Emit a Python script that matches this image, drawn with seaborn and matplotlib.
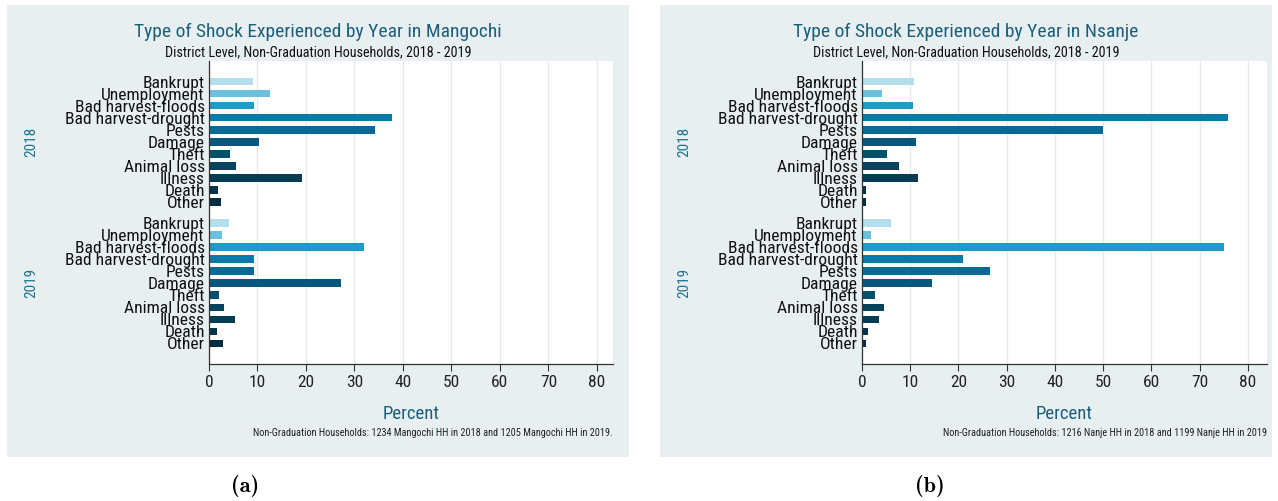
import matplotlib
matplotlib.use("Agg")
import matplotlib.pyplot as plt
import matplotlib.transforms as mtransforms
from matplotlib import font_manager
from matplotlib.patches import Rectangle
import seaborn as sns
import pandas as pd

# Data (percent of households)
SHOCKS = ["Bankrupt", "Unemployment", "Bad harvest-floods", "Bad harvest-drought",
          "Pests", "Damage", "Theft", "Animal loss", "Illness", "Death", "Other"]
YEARS = ["2018", "2019"]
MANGOCHI_2018 = [9.0, 12.6, 9.3, 37.7, 34.3, 10.4, 4.3, 5.6, 19.1, 1.9, 2.4]
MANGOCHI_2019 = [4.1, 2.6, 32.0, 9.3, 9.3, 27.2, 2.1, 3.1, 5.4, 1.7, 2.9]
NSANJE_2018 = [10.8, 4.1, 10.5, 75.9, 50.0, 11.2, 5.2, 7.7, 11.7, 0.9, 0.8]
NSANJE_2019 = [6.0, 1.9, 75.0, 20.9, 26.5, 14.5, 2.7, 4.5, 3.6, 1.3, 0.8]

COLORS = ["#b3deeb", "#6cbfdd", "#1e9bcb", "#0a7aaa", "#086b96", "#07587b",
          "#065069", "#05445c", "#043c52", "#03334a", "#022c40"]

PANELS = [
    {"title": "Type of Shock Experienced by Year in Mangochi",
     "note": "Non-Graduation Households: 1234 Mangochi HH in 2018 and 1205 Mangochi HH in 2019.",
     "values": [MANGOCHI_2018, MANGOCHI_2019], "caption": "(a)"},
    {"title": "Type of Shock Experienced by Year in Nsanje",
     "note": "Non-Graduation Households: 1216 Nanje HH in 2018 and 1199 Nanje HH in 2019",
     "values": [NSANJE_2018, NSANJE_2019], "caption": "(b)"},
]
SUBTITLE = "District Level, Non-Graduation Households, 2018 - 2019"

W, H = 1278, 501
BG = "#e8eff1"
TEAL = "#1b5f7c"
GROUP_STEP = 11.7


def pick_narrow_font():
    # the reference text is horizontally squeezed, so look for a condensed face
    entries = font_manager.fontManager.ttflist
    names = {f.name for f in entries}
    for n in ["Liberation Sans Narrow", "Roboto Condensed", "Open Sans Condensed", "Arial Narrow"]:
        if n in names:
            return n, "normal", True
    for fam in ["DejaVu Sans", "Noto Sans", "Open Sans", "Roboto"]:
        for f in entries:
            if f.name == fam and str(f.stretch) in ("condensed", "semi-condensed"):
                return fam, f.stretch, True
    return "Liberation Sans", "normal", False


sns.set_theme(style="white")
FONT, STRETCH, IS_NARROW = pick_narrow_font()
plt.rcParams["font.family"] = [FONT, "DejaVu Sans"]
plt.rcParams["font.stretch"] = STRETCH
LBL = 12.6 if IS_NARROW else 11

fig = plt.figure(figsize=(W / 100, H / 100), dpi=100)
fig.patch.set_facecolor("white")

# pixel layout of the two panels: (panel x0, panel x1, plot x0, plot x1, x max, caption x)
layout = [(7, 629, 209, 613, 83.3, 245), (660, 1272, 862, 1267, 84.0, 930)]
plot_top, plot_bot = 61, 364

for panel, (px0, px1, ax0, ax1, xmax, capx) in zip(PANELS, layout):
    fig.patches.append(Rectangle((px0 / W, 1 - 457 / H), (px1 - px0) / W, (457 - 5) / H,
                                 transform=fig.transFigure, facecolor=BG,
                                 edgecolor="none", zorder=-10))
    ax = fig.add_axes([ax0 / W, 1 - plot_bot / H, (ax1 - ax0) / W, (plot_bot - plot_top) / H])
    ax.set_facecolor("white")

    rows = []
    for yi, (year, vals) in enumerate(zip(YEARS, panel["values"])):
        for si, (shock, v) in enumerate(zip(SHOCKS, vals)):
            rows.append({"year": year, "shock": shock, "value": v,
                         "pos": si + yi * GROUP_STEP})
    df = pd.DataFrame(rows)

    sns.barplot(data=df, x="value", y="pos", hue="shock", hue_order=SHOCKS,
                palette=dict(zip(SHOCKS, COLORS)), saturation=1, orient="h",
                native_scale=True, dodge=False, width=0.62, legend=False,
                linewidth=0, ax=ax)

    ax.set_xlim(0, xmax)
    ax.set_ylim(GROUP_STEP + 10 + 1.7, -1.7)
    ax.set_xticks(range(0, 81, 10))
    ax.set_yticks(df["pos"])
    ax.set_yticklabels(df["shock"], fontsize=LBL, color="#111111")
    ax.tick_params(axis="y", length=0, pad=3)
    ax.tick_params(axis="x", length=5, width=0.8, color="#333333", labelsize=12.5,
                   labelcolor="#222222", pad=3, bottom=True)
    ax.set_xlabel("")
    ax.set_ylabel("")
    ax.grid(axis="x", color="#e4ecef", lw=1)
    ax.set_axisbelow(True)
    for s in ["top", "right"]:
        ax.spines[s].set_visible(False)
    for s in ["left", "bottom"]:
        ax.spines[s].set_color("#333333")
        ax.spines[s].set_linewidth(0.9)

    # year group labels at the far left of the panel
    trans = mtransforms.blended_transform_factory(fig.transFigure, ax.transData)
    for yi, year in enumerate(YEARS):
        ax.text((px0 + 24) / W, 5 + yi * GROUP_STEP, year, transform=trans, rotation=90,
                ha="center", va="center", fontsize=11, color="#1f7394")

    cx = (px0 + px1) / 2 / W
    fig.text(cx, 1 - 32 / H, panel["title"], ha="center", va="center",
             fontsize=14 if IS_NARROW else 13, color=TEAL)
    fig.text(cx, 1 - 52 / H, SUBTITLE, ha="center", va="center",
             fontsize=10.2 if IS_NARROW else 9, color="#111111")
    fig.text((ax0 + ax1) / 2 / W, 1 - 414 / H, "Percent", ha="center", va="center",
             fontsize=13.5, color=TEAL)
    fig.text(ax1 / W, 1 - 433 / H, panel["note"], ha="right", va="center",
             fontsize=7.4 if IS_NARROW else 6.8, color="#222222")
    fig.text(capx / W, 1 - 486 / H, panel["caption"], ha="center", va="center",
             fontsize=16, fontweight="bold", family=["cmb10", "DejaVu Serif"],
             color="black")

fig.savefig("out.png", dpi=100, facecolor="white")
